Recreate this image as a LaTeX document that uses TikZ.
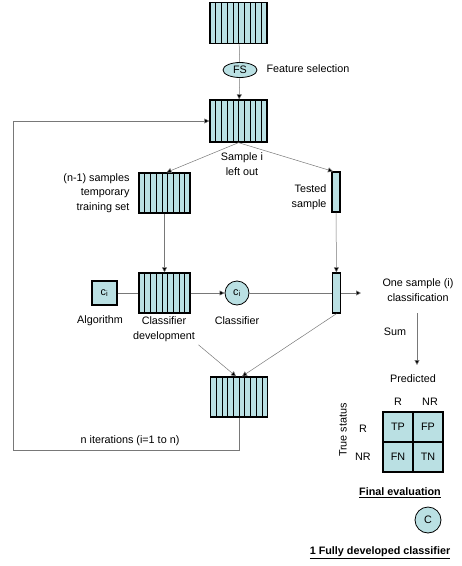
\documentclass[tikz,border=0pt]{standalone}
\usepackage{fontspec}
\setmainfont{Liberation Sans}
\usepackage{tikz}
\usepackage{xcolor}
\usetikzlibrary{arrows.meta,shapes.geometric}
\definecolor{cellfill}{RGB}{186,224,227}
\definecolor{linegray}{RGB}{120,120,120}
\newcommand{\ulbold}[1]{\underline{\textbf{#1}}}

\begin{document}
\begin{tikzpicture}[x=1pt, y=-1pt, every node/.style={font=\fontsize{10.8}{14.5}\selectfont},
  stripebox/.style={draw=black, line width=1.3pt, fill=cellfill, inner sep=0pt,
    path picture={\foreach \k in {1,...,#1} {\draw[line width=0.6pt] ([xshift=\k*5.7pt]path picture bounding box.south west) -- ([xshift=\k*5.7pt]path picture bounding box.north west);}}},
  thinbox/.style={draw=black, line width=1.3pt, fill=cellfill, inner sep=0pt, minimum width=8pt, minimum height=40pt},
  cell/.style={draw=black, line width=1.3pt, fill=cellfill, inner sep=0pt, minimum size=30pt},
  ring/.style={circle, draw=black, line width=0.8pt, fill=cellfill, inner sep=0pt},
  conn/.style={draw=linegray, line width=0.5pt},
  tip/.style={conn, -{Triangle[length=5pt,width=5pt,fill=black]}}]
\useasboundingbox (0,0) rectangle (462,566);
% Data sets
\node[stripebox=9, minimum width=57pt, minimum height=41pt] (top) at (238.5,23) {};
\node[ellipse, draw=black, line width=0.8pt, fill=cellfill, minimum width=34pt, minimum height=15pt, inner sep=0pt] (fs) at (240,70) {FS};
\node[anchor=west] (fstext) at (263,69) {Feature selection};
\node[stripebox=9, minimum width=57pt, minimum height=42pt] (loo) at (238.5,121) {};
\node[align=center] (looText) at (242,164) {Sample i\\left out};
\node[stripebox=8, minimum width=51pt, minimum height=40pt] (train) at (164.5,193) {};
\node[align=right, anchor=east] (trainText) at (133,193) {(n-1) samples\\temporary\\training set};
\node[thinbox] (tested) at (336,192) {};
\node[align=right, anchor=east] (testedText) at (330,197) {Tested\\sample};
% Classifier development
\node[stripebox=8, minimum width=51pt, minimum height=40pt] (dev) at (164.5,293) {};
\node[draw=black, line width=1.3pt, fill=cellfill, minimum width=25pt, minimum height=24pt, inner sep=0pt] (algo) at (104.5,293) {c\textsubscript{i}};
\node (algoText) at (100,321) {Algorithm};
\node[align=center] (devText) at (164,329) {Classifier\\development};
\node[ring, minimum size=24pt] (clf) at (237,293) {c\textsubscript{i}};
\node (clfText) at (237,321) {Classifier};
\node[thinbox] (testbox) at (336.5,293) {};
\coordinate (out) at (361,293);
\node[align=center] (outText) at (418,290) {One sample (i)\\classification};
\node[stripebox=9, minimum width=57pt, minimum height=40pt] (final) at (239,397) {};
\node (loopText) at (130,441) {n iterations (i=1 to n)};
% Evaluation
\coordinate (sumTop) at (417,313);
\coordinate (sumEnd) at (417,365);
\node (sumText) at (395,332) {Sum};
\node (predText) at (413,379) {Predicted};
\node (colR) at (398,402) {R};
\node (colNR) at (430,402) {NR};
\node (rowR) at (363,429) {R};
\node (rowNR) at (363,457) {NR};
\node[rotate=90] (trueText) at (343,430) {True status};
\node[cell] (tp) at (398,427) {TP};
\node[cell] (fp) at (428,427) {FP};
\node[cell] (fn) at (398,457) {FN};
\node[cell] (tn) at (428,457) {TN};
\node (evalText) at (400,493) {\ulbold{Final evaluation}};
\node[ring, minimum size=26pt] (full) at (428,520) {C};
\node (fullText) at (380,553) {\ulbold{1 Fully developed classifier}};
% Connectors
\draw[conn] (top) -- (fs);
\draw[tip] (fs) -- (loo);
\draw[tip] (loo.south) -- ([xshift=2pt]train.north);
\draw[tip] (loo.south) -- ([xshift=-3pt]tested.north);
\draw[tip] (train) -- (dev);
\draw[conn] (algo) -- (dev);
\draw[tip] (dev) -- (clf);
\draw[conn] (clf) -- (testbox);
\draw[tip] (tested) -- (testbox);
\draw[tip] (testbox) -- (out);
\draw[tip] (devText.south east) -- ([xshift=-3pt]final.north);
\draw[tip] (testbox.south) -- ([xshift=3pt]final.north);
\draw[tip] (sumTop) -- (sumEnd);
\draw[tip] (final.south) -- ++(0,33) -| (13,121) -- (loo.west);
\end{tikzpicture}
\end{document}
